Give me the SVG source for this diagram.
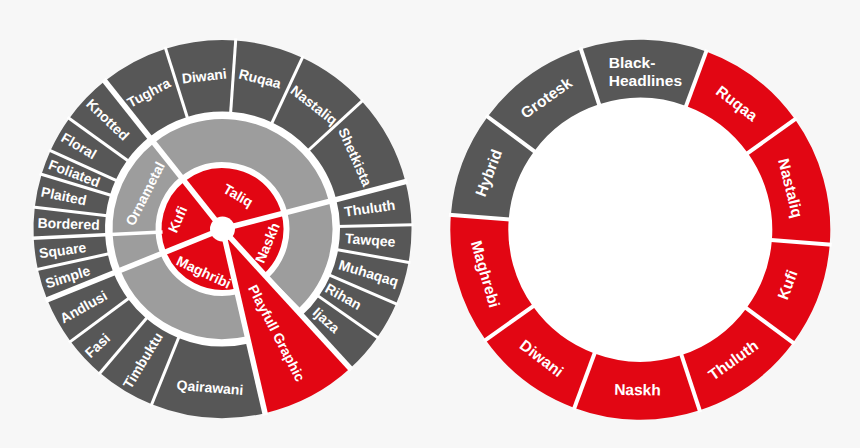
<svg xmlns="http://www.w3.org/2000/svg" width="860" height="448" viewBox="0 0 860 448">
<style>
.bg{fill:#f7f7f7}
.wd{fill:#fff}
.d{fill:none;stroke:#575757;stroke-width:71.5}
.g{fill:none;stroke:#9d9d9d;stroke-width:43}
.r{fill:none;stroke:#e20613;stroke-width:61}
.pw{fill:none;stroke:#e20613;stroke-width:189}
.R{fill:none;stroke:#e20613;stroke-width:58}
.D{fill:none;stroke:#575757;stroke-width:58}
.sep line{stroke:#fff;fill:none}
.s1{stroke-width:3}
.s2{stroke-width:5.5}
.s3{stroke-width:3.5}
.s4{stroke-width:4}
text{font-family:"Liberation Sans",Arial,sans-serif;font-weight:bold;fill:#fff}
.t{font-size:14px}
.T{font-size:15.5px}
.m{text-anchor:middle}
</style>
<rect class="bg" x="0" y="0" width="860" height="448"/>

<g id="left-chart" transform="translate(222.5,229)">
  <circle class="wd" r="188.5"/>
  <g id="outer-ring">
    <g id="n-diwani"><circle class="d" r="153.25" pathLength="360" stroke-dasharray="21.5 360" transform="rotate(252.5)"/><text class="t m" dy="0.35em" transform="rotate(353.2) translate(0,-154) rotate(-359.7)">Diwani</text></g>
    <g id="n-ruqaa"><circle class="d" r="153.25" pathLength="360" stroke-dasharray="21 360" transform="rotate(-86)"/><text class="t m" dy="0.35em" transform="rotate(14) translate(0,-155) rotate(0)">Ruqaa</text></g>
    <g id="n-nastaliq"><circle class="d" r="153.25" pathLength="360" stroke-dasharray="22.5 360" transform="rotate(-65)"/><text class="t m" dy="0.35em" transform="rotate(36.5) translate(0,-154) rotate(1.5)">Nastaliq</text></g>
    <g id="n-shetkista"><circle class="d" r="153.25" pathLength="360" stroke-dasharray="28 360" transform="rotate(-42.5)"/><text class="t m" dy="0.35em" transform="rotate(61.5) translate(0,-151) rotate(4.5)">Shetkista</text></g>
    <g id="n-thuluth"><circle class="d" r="153.25" pathLength="360" stroke-dasharray="13.2 360" transform="rotate(-14.5)"/><text class="t" dy="0.35em" transform="rotate(-8) translate(123,0)">Thuluth</text></g>
    <g id="n-tawqee"><circle class="d" r="153.25" pathLength="360" stroke-dasharray="11.5 360" transform="rotate(-1.3)"/><text class="t" dy="0.35em" transform="rotate(4.3) translate(123,0)">Tawqee</text></g>
    <g id="n-muhaqaq"><circle class="d" r="153.25" pathLength="360" stroke-dasharray="13.1 360" transform="rotate(10.2)"/><text class="t" dy="0.35em" transform="rotate(16.8) translate(122,0)">Muhaqaq</text></g>
    <g id="n-rihan"><circle class="d" r="153.25" pathLength="360" stroke-dasharray="11.7 360" transform="rotate(23.3)"/><text class="t" dy="0.35em" transform="rotate(29.2) translate(119,0)">Rihan</text></g>
    <g id="n-ijaza"><circle class="d" r="153.25" pathLength="360" stroke-dasharray="12.5 360" transform="rotate(35)"/><text class="t" dy="0.35em" transform="rotate(41.3) translate(123,0)">Ijaza</text></g>
    <g id="n-qairawani"><circle class="d" r="153.25" pathLength="360" stroke-dasharray="35 360" transform="rotate(77)"/><text class="t m" dy="0.35em" transform="rotate(184.5) translate(0,-159) rotate(-180)">Qairawani</text></g>
    <g id="n-timbuktu"><circle class="d" r="153.25" pathLength="360" stroke-dasharray="18.4 360" transform="rotate(112)"/><text class="t" dy="0.35em" transform="rotate(-58.8) translate(-185,0)">Timbuktu</text></g>
    <g id="n-fasi"><circle class="d" r="153.25" pathLength="360" stroke-dasharray="13.1 360" transform="rotate(130.4)"/><text class="t" dy="0.35em" transform="rotate(-43) translate(-185,0)">Fasi</text></g>
    <g id="n-andlusi"><circle class="d" r="153.25" pathLength="360" stroke-dasharray="14.5 360" transform="rotate(143.5)"/><text class="t" dy="0.35em" transform="rotate(-29.3) translate(-185,0)">Andlusi</text></g>
    <g id="n-simple"><circle class="d" r="153.25" pathLength="360" stroke-dasharray="9.7 360" transform="rotate(158)"/><text class="t" dy="0.35em" transform="rotate(-17.2) translate(-185,0)">Simple</text></g>
    <g id="n-square"><circle class="d" r="153.25" pathLength="360" stroke-dasharray="9.5 360" transform="rotate(167.7)"/><text class="t" dy="0.35em" transform="rotate(-7.6) translate(-185,0)">Square</text></g>
    <g id="n-bordered"><circle class="d" r="153.25" pathLength="360" stroke-dasharray="9.4 360" transform="rotate(177.2)"/><text class="t" dy="0.35em" transform="rotate(1.9) translate(-185,0)">Bordered</text></g>
    <g id="n-plaited"><circle class="d" r="153.25" pathLength="360" stroke-dasharray="10.2 360" transform="rotate(186.6)"/><text class="t" dy="0.35em" transform="rotate(11.7) translate(-185,0)">Plaited</text></g>
    <g id="n-foliated"><circle class="d" r="153.25" pathLength="360" stroke-dasharray="7.7 360" transform="rotate(196.8)"/><text class="t" dy="0.35em" transform="rotate(20.6) translate(-185,0)">Foliated</text></g>
    <g id="n-floral"><circle class="d" r="153.25" pathLength="360" stroke-dasharray="11.3 360" transform="rotate(204.5)"/><text class="t" dy="0.35em" transform="rotate(30.1) translate(-185,0)">Floral</text></g>
    <g id="n-knotted"><circle class="d" r="153.25" pathLength="360" stroke-dasharray="15.7 360" transform="rotate(215.8)"/><text class="t" dy="0.35em" transform="rotate(43.6) translate(-185,0)">Knotted</text></g>
    <g id="n-tughra"><circle class="d" r="153.25" pathLength="360" stroke-dasharray="21 360" transform="rotate(231.5)"/><text class="t m" dy="0.35em" transform="rotate(331.6) translate(0,-155) rotate(-359.6)">Tughra</text></g>
  </g>
  <g id="middle-ring">
    <g id="n-taliq-mid"><circle class="g" r="88.5" pathLength="360" stroke-dasharray="114 360" transform="rotate(231.5)"/></g>
    <g id="n-naskh-mid"><circle class="g" r="88.5" pathLength="360" stroke-dasharray="60 360" transform="rotate(-14.5)"/></g>
    <g id="n-maghribi-mid"><circle class="g" r="88.5" pathLength="360" stroke-dasharray="81 360" transform="rotate(77)"/></g>
    <g id="n-kufi-mid"><circle class="g" r="88.5" pathLength="360" stroke-dasharray="19.2 360" transform="rotate(158)"/></g>
    <g id="n-ornametal"><circle class="g" r="88.5" pathLength="360" stroke-dasharray="54.3 360" transform="rotate(177.2)"/><text class="t m" dy="0.35em" transform="rotate(294.5) translate(0,-85) rotate(-357.5)">Ornametal</text></g>
  </g>
  <g id="inner-ring">
    <g id="n-taliq"><circle class="r" r="30.5" pathLength="360" stroke-dasharray="114 360" transform="rotate(231.5)"/><text class="t m" dy="0.35em" transform="rotate(25) translate(0,-37) rotate(5)">Taliq</text></g>
    <g id="n-naskh"><circle class="r" r="30.5" pathLength="360" stroke-dasharray="62 360" transform="rotate(-14.5)"/><text class="t m" dy="0.35em" transform="rotate(107) translate(0,-47) rotate(-174)">Naskh</text></g>
    <g id="n-maghribi"><circle class="r" r="30.5" pathLength="360" stroke-dasharray="81 360" transform="rotate(77)"/><text class="t m" dy="0.35em" transform="rotate(203.5) translate(0,-47) rotate(-178.5)">Maghribi</text></g>
    <g id="n-kufi"><circle class="r" r="30.5" pathLength="360" stroke-dasharray="73.5 360" transform="rotate(158)"/><text class="t m" dy="0.35em" transform="rotate(282) translate(0,-46) rotate(-348)">Kufi</text></g>
  </g>
  <g id="n-playfull-graphic"><circle class="pw" r="94.5" pathLength="360" stroke-dasharray="29.5 360" transform="rotate(47.5)"/><text class="t" dy="0.35em" transform="rotate(62.5) translate(64,0)">Playfull Graphic</text></g>
  <g id="left-separators" class="sep">
    <line class="s2" y1="-10" y2="-191" transform="rotate(321.5)"/>
    <line class="s2" y1="-10" y2="-191" transform="rotate(75.5)"/>
    <line class="s2" y1="-10" y2="-191" transform="rotate(137.5)"/>
    <line class="s2" y1="-10" y2="-191" transform="rotate(167)"/>
    <line class="s2" y1="-10" y2="-191" transform="rotate(248)"/>
    <line class="s3" y1="-60" y2="-191" transform="rotate(267.2)"/>
    <line class="s1" y1="-114" y2="-191" transform="rotate(4)"/>
    <line class="s1" y1="-114" y2="-191" transform="rotate(25)"/>
    <line class="s1" y1="-114" y2="-191" transform="rotate(47.5)"/>
    <line class="s1" y1="-114" y2="-191" transform="rotate(88.7)"/>
    <line class="s1" y1="-114" y2="-191" transform="rotate(100.2)"/>
    <line class="s1" y1="-114" y2="-191" transform="rotate(113.3)"/>
    <line class="s1" y1="-114" y2="-191" transform="rotate(125)"/>
    <line class="s1" y1="-114" y2="-191" transform="rotate(202)"/>
    <line class="s1" y1="-114" y2="-191" transform="rotate(220.4)"/>
    <line class="s1" y1="-114" y2="-191" transform="rotate(233.5)"/>
    <line class="s1" y1="-114" y2="-191" transform="rotate(257.7)"/>
    <line class="s1" y1="-114" y2="-191" transform="rotate(276.6)"/>
    <line class="s1" y1="-114" y2="-191" transform="rotate(286.8)"/>
    <line class="s1" y1="-114" y2="-191" transform="rotate(294.5)"/>
    <line class="s1" y1="-114" y2="-191" transform="rotate(305.8)"/>
    <line class="s1" y1="-114" y2="-191" transform="rotate(342.5)"/>
  </g>
  <circle class="wd" r="12.5"/>
</g>

<g id="right-chart" transform="translate(640.3,229.7)">
  <circle class="wd" r="133"/>
  <g id="r-ring">
    <g id="r-black-headlines"><circle class="D" r="161" pathLength="360" stroke-dasharray="38.5 360" transform="rotate(251.8)"/><text class="T"><tspan x="-31.5" y="-161.7">Black-</tspan><tspan x="-31.5" y="-143.7">Headlines</tspan></text></g>
    <g id="r-ruqaa"><circle class="R" r="161" pathLength="360" stroke-dasharray="34.2 360" transform="rotate(-69.7)"/><text class="T m" dy="0.35em" transform="rotate(37.4) translate(0,-159) rotate(0)">Ruqaa</text></g>
    <g id="r-nastaliq"><circle class="R" r="161" pathLength="360" stroke-dasharray="40 360" transform="rotate(-35.5)"/><text class="T m" dy="0.35em" transform="rotate(74.5) translate(0,-156) rotate(1.5)">Nastaliq</text></g>
    <g id="r-kufi"><circle class="R" r="161" pathLength="360" stroke-dasharray="32 360" transform="rotate(4.5)"/><text class="T m" dy="0.35em" transform="rotate(110.5) translate(0,-157) rotate(-180)">Kufi</text></g>
    <g id="r-thuluth"><circle class="R" r="161" pathLength="360" stroke-dasharray="35.3 360" transform="rotate(36.5)"/><text class="T m" dy="0.35em" transform="rotate(144.5) translate(0,-160) rotate(-180)">Thuluth</text></g>
    <g id="r-naskh"><circle class="R" r="161" pathLength="360" stroke-dasharray="38.5 360" transform="rotate(71.8)"/><text class="T m" dy="0.35em" transform="rotate(181) translate(0,-160) rotate(-180)">Naskh</text></g>
    <g id="r-diwani"><circle class="R" r="161" pathLength="360" stroke-dasharray="34.2 360" transform="rotate(110.3)"/><text class="T m" dy="0.35em" transform="rotate(217.5) translate(0,-162) rotate(-180)">Diwani</text></g>
    <g id="r-maghrebi"><circle class="R" r="161" pathLength="360" stroke-dasharray="40 360" transform="rotate(144.5)"/><text class="T m" dy="0.35em" transform="rotate(254) translate(0,-161) rotate(-180)">Maghrebi</text></g>
    <g id="r-hybrid"><circle class="D" r="161" pathLength="360" stroke-dasharray="32 360" transform="rotate(184.5)"/><text class="T m" dy="0.35em" transform="rotate(290.5) translate(0,-162) rotate(-360)">Hybrid</text></g>
    <g id="r-grotesk"><circle class="D" r="161" pathLength="360" stroke-dasharray="35.3 360" transform="rotate(216.5)"/><text class="T m" dy="0.35em" transform="rotate(324.5) translate(0,-162) rotate(-360)">Grotesk</text></g>
  </g>
  <g id="right-separators" class="sep">
    <line class="s4" y1="-128" y2="-192" transform="rotate(20.3)"/>
    <line class="s4" y1="-128" y2="-192" transform="rotate(54.5)"/>
    <line class="s4" y1="-128" y2="-192" transform="rotate(94.5)"/>
    <line class="s4" y1="-128" y2="-192" transform="rotate(126.5)"/>
    <line class="s4" y1="-128" y2="-192" transform="rotate(161.8)"/>
    <line class="s4" y1="-128" y2="-192" transform="rotate(200.3)"/>
    <line class="s4" y1="-128" y2="-192" transform="rotate(234.5)"/>
    <line class="s4" y1="-128" y2="-192" transform="rotate(274.5)"/>
    <line class="s4" y1="-128" y2="-192" transform="rotate(306.5)"/>
    <line class="s4" y1="-128" y2="-192" transform="rotate(341.8)"/>
  </g>
</g>
</svg>
